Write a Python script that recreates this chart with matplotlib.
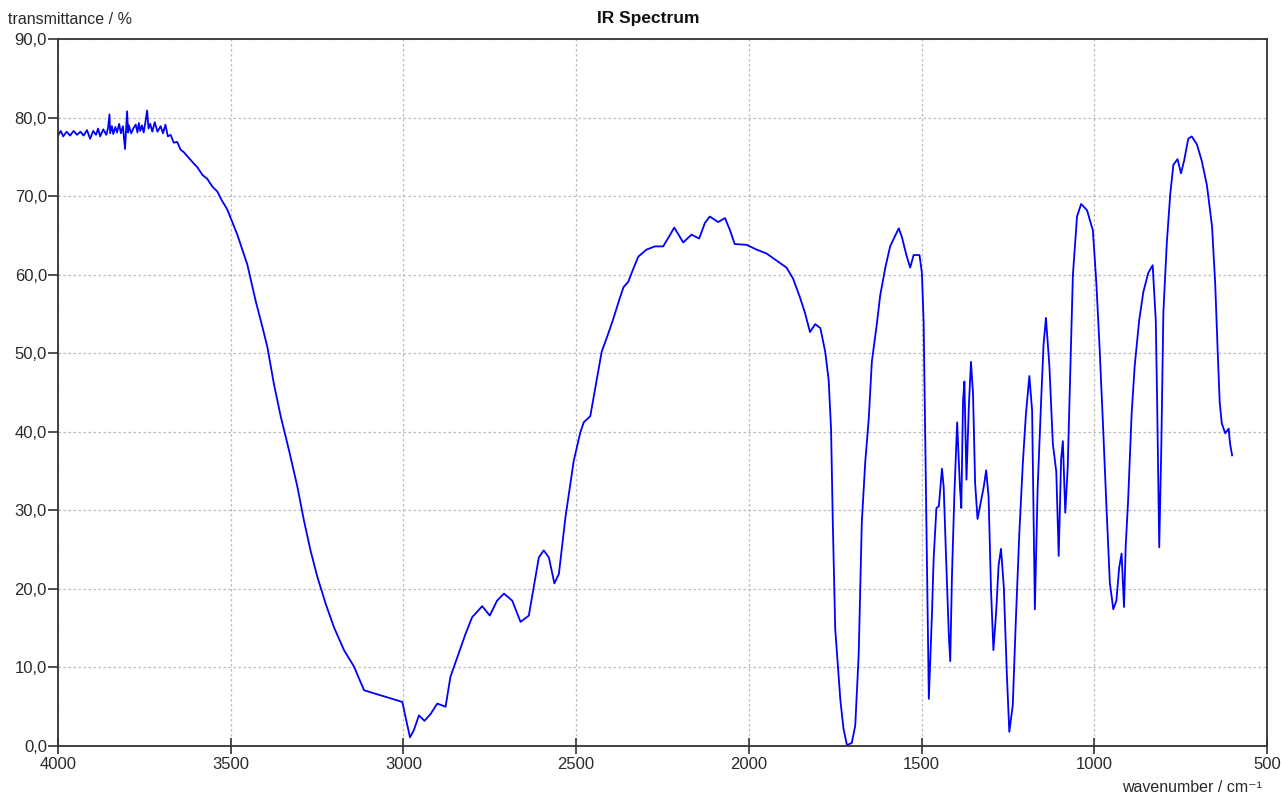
import matplotlib.pyplot as plt
from matplotlib.ticker import FuncFormatter

# points (wavenumber in cm-1, transmittance in %)
wavenumber = [
    4000, 3992, 3985, 3975, 3965, 3955, 3945, 3935, 3926, 3916, 3907, 3898, 3890, 3884,
    3878, 3869, 3860, 3855, 3851, 3849, 3844, 3840, 3834, 3829, 3823, 3818, 3812, 3806,
    3803, 3800, 3797, 3795, 3788, 3781, 3775, 3770, 3766, 3762, 3757, 3752, 3747, 3742,
    3738, 3733, 3727, 3720, 3712, 3703, 3696, 3689, 3682, 3674, 3665, 3655, 3645, 3636,
    3626, 3616, 3606, 3597, 3582, 3568, 3553, 3539, 3525, 3510, 3481, 3452, 3428, 3408,
    3394, 3375,
    3355, 3331, 3307, 3288, 3269, 3249, 3225, 3201, 3172, 3143, 3114, 3085, 3047, 3003,
    2994, 2981, 2970, 2955, 2939, 2921, 2902, 2878, 2864, 2844, 2820, 2801, 2772, 2750,
    2729, 2709, 2685, 2661, 2637, 2623, 2608, 2594, 2579, 2563, 2550, 2531, 2507, 2488,
    2478, 2459, 2441, 2426, 2407, 2393, 2373, 2363, 2349, 2335, 2320, 2296, 2272, 2248,
    2229, 2216, 2190, 2166, 2144, 2127, 2113, 2089, 2069, 2055, 2041, 2007, 1978, 1949,
    1920, 1891, 1872, 1852, 1838, 1823, 1808, 1793, 1779, 1769, 1762, 1757, 1750, 1735,
    1726, 1716, 1702, 1692, 1682, 1673, 1663, 1653, 1644, 1629, 1620, 1605, 1591, 1576,
    1566, 1557, 1544, 1533, 1523, 1506, 1499, 1494, 1489, 1484, 1479, 1470, 1465, 1457,
    1450, 1441, 1436, 1429, 1421, 1417, 1412, 1405, 1397, 1389, 1385, 1380, 1376, 1370,
    1363, 1357, 1351, 1345, 1338, 1330, 1320, 1313, 1306, 1299, 1292, 1284, 1277, 1270,
    1262, 1253, 1246, 1236, 1227, 1217, 1207, 1198, 1188, 1180, 1172, 1164, 1154, 1147,
    1140, 1130, 1120, 1110, 1103, 1096, 1091, 1084, 1077, 1070, 1062, 1050, 1038, 1021,
    1004, 994, 985, 975, 965, 955, 945, 936, 928, 921, 914, 909, 902, 892, 883, 870, 858,
    844, 831, 822, 818, 812, 806, 800, 790, 780, 771, 759, 749, 740, 728, 718, 703, 689,
    674, 659, 650, 643, 637, 631, 621, 611, 607, 601,
]
transmittance = [
    77.7, 78.3, 77.6, 78.2, 77.7, 78.3, 77.8, 78.2, 77.7, 78.4, 77.3, 78.3, 77.8, 78.6,
    77.6, 78.5, 77.8, 78.7, 80.4, 78.0, 78.9, 77.9, 78.8, 78.1, 79.2, 78.0, 78.9, 76.0,
    78.4, 80.8, 78.1, 79.0, 78.0, 78.7, 79.1, 78.1, 79.3, 78.3, 79.0, 78.1, 79.4, 80.9,
    78.6, 79.2, 78.2, 79.4, 78.2, 78.9, 78.0, 79.1, 77.6, 77.8, 76.8, 76.9, 75.9, 75.6,
    75.1, 74.6, 74.1, 73.7, 72.7, 72.2, 71.2, 70.6, 69.4, 68.3, 65.1, 61.3, 56.7, 53.3,
    50.8, 46.1,
    41.9, 37.6, 33.0, 28.7, 24.9, 21.5, 18.1, 15.1, 12.2, 10.1, 7.1, 6.7, 6.2, 5.6,
    3.7, 1.1, 2.0, 3.9, 3.2, 4.1, 5.4, 5.0, 8.8, 11.3, 14.3, 16.4, 17.8, 16.6,
    18.5, 19.4, 18.5, 15.8, 16.6, 20.2, 24.0, 24.9, 24.0, 20.7, 21.9, 29.1, 36.3, 39.9,
    41.2, 42.0, 46.5, 50.2, 52.5, 54.3, 57.1, 58.4, 59.1, 60.7, 62.3, 63.2, 63.6, 63.6,
    65.0, 66.0, 64.1, 65.1, 64.6, 66.6, 67.4, 66.7, 67.2, 65.7, 63.9, 63.8, 63.2, 62.7,
    61.8, 60.9, 59.5, 57.1, 55.2, 52.7, 53.7, 53.2, 50.2, 46.6, 40.3, 28.5, 14.9, 5.8,
    2.2, 0.1, 0.4, 2.6, 11.7, 28.5, 36.2, 41.6, 48.9, 53.9, 57.3, 60.9, 63.6, 65.0,
    65.9, 64.8, 62.5, 60.9, 62.5, 62.5, 60.2, 53.9, 37.6, 21.7, 6.0, 16.7, 23.9, 30.3,
    30.5, 35.3, 33.0, 23.9, 14.0, 10.8, 21.7, 32.1, 41.2, 33.0, 30.3, 43.9, 46.4, 33.9,
    43.4, 48.9, 44.8, 33.5, 28.9, 30.7, 33.0, 35.1, 31.7, 19.9, 12.2, 17.1, 23.0, 25.1,
    20.3, 9.0, 1.8, 5.2, 16.1, 27.1, 35.9, 42.2, 47.1, 42.7, 17.4, 32.8, 43.8, 51.0,
    54.5, 48.4, 38.5, 34.9, 24.2, 36.5, 38.8, 29.7, 35.4, 46.9, 59.9, 67.4, 69.0, 68.2,
    65.6, 58.9, 51.0, 41.1, 30.7, 20.8, 17.4, 18.5, 22.7, 24.5, 17.7, 25.5, 31.3, 42.2, 48.4, 54.2, 57.8,
    60.2, 61.2, 54.2, 43.8, 25.3, 38.0, 55.2, 64.1, 70.3, 74.0, 74.7, 72.9, 74.5, 77.3, 77.6, 76.6, 74.5,
    71.4, 66.1, 58.9, 50.5, 43.8, 41.1, 39.8, 40.4, 38.5, 37.0,
]

x_ticks = [4000, 3500, 3000, 2500, 2000, 1500, 1000, 500]
y_ticks = [0, 10, 20, 30, 40, 50, 60, 70, 80, 90]

plt.rcParams['font.family'] = ['Liberation Sans', 'DejaVu Sans']
text_color = '#2a2a2a'

fig = plt.figure(figsize=(12.81, 7.97), dpi=100)
ax = fig.add_axes([58 / 1281, 51 / 797, 1209 / 1281, 707 / 797])

ax.plot(wavenumber, transmittance, color='#0000ff', linewidth=1.3)

ax.set_xlim(4000, 500)
ax.set_ylim(0, 90)
ax.set_xticks(x_ticks)
ax.set_yticks(y_ticks)
ax.yaxis.set_major_formatter(FuncFormatter(lambda v, p: f"{v:.1f}".replace('.', ',')))

ax.grid(True, color='#bbbbbb', linestyle=(0, (2, 2)), linewidth=0.9)
ax.set_axisbelow(True)
for s in ax.spines.values():
    s.set_color('#333333')
    s.set_linewidth(1.3)
ax.tick_params(axis='both', labelsize=12, color='#333333', labelcolor=text_color,
               width=1.2)
ax.tick_params(axis='y', length=7, pad=1)
ax.tick_params(axis='x', direction='inout', length=12, pad=2)

fig.text(648 / 1281, 1 - 19 / 797, "IR Spectrum", ha='center', va='center',
         fontsize=12.5, fontweight='bold', color='#111111')
fig.text(8 / 1281, 1 - 20 / 797, "transmittance / %", ha='left', va='center',
         fontsize=11.5, color=text_color)
fig.text(1262 / 1281, 1 - 788 / 797, "wavenumber / cm⁻¹", ha='right', va='center',
         fontsize=11.5, color=text_color)

fig.savefig("out.png", dpi=100)
